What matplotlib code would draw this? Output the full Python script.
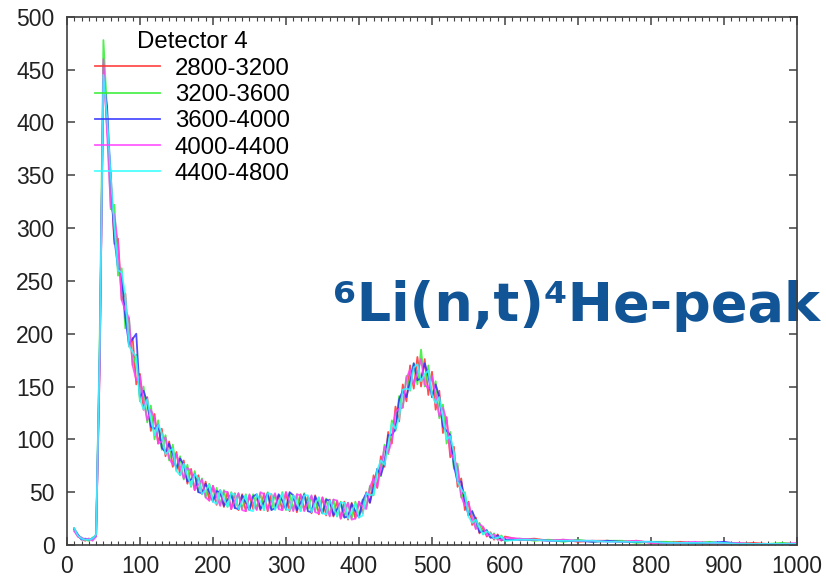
import matplotlib
matplotlib.use('Agg')
import matplotlib.pyplot as plt
from matplotlib.ticker import MultipleLocator


# channel positions: every 5 channels up to 600, then every 20 in the flat tail
channel = list(range(10, 601, 5)) + list(range(620, 1001, 20))

labels = ['2800-3200', '3200-3600', '3600-4000', '4000-4400', '4400-4800']
colors = ['#ff3030', '#30ee30', '#3030ff', '#ff40ff', '#30ffff']

# counts
s2800 = [16, 8, 6, 4, 6, 5, 10, 170, 455, 395,
         352, 285, 290, 232, 238, 188, 196, 152, 162, 128,
         140, 108, 124, 96, 110, 84, 98, 74, 88, 66,
         80, 58, 72, 52, 66, 48, 60, 42, 56, 38,
         52, 36, 50, 34, 49, 33, 48, 32, 47, 34,
         46, 33, 49, 32, 48, 34, 47, 33, 50, 32,
         47, 31, 48, 33, 46, 30, 47, 29, 45, 28,
         43, 27, 42, 25, 41, 24, 40, 25, 41, 30,
         50, 40, 66, 54, 84, 74, 107, 96, 131, 117,
         152, 136, 170, 148, 178, 150, 176, 142, 164, 128,
         146, 106, 121, 83, 93, 55, 63, 33, 41, 19,
         26, 11, 17, 8, 12, 5, 10, 4, 8,
         5, 6, 4, 5, 3, 4, 4, 3, 4, 2, 2, 3, 2, 1, 2, 1, 2, 1, 1, 1]

s3200 = [14, 9, 7, 5, 4, 7, 8, 200, 478, 410,
         318, 322, 255, 262, 205, 215, 170, 180, 136, 150,
         116, 132, 100, 118, 90, 104, 80, 95, 70, 84,
         62, 76, 55, 70, 50, 63, 45, 58, 42, 54,
         38, 52, 36, 50, 35, 49, 34, 48, 33, 48,
         34, 49, 33, 50, 34, 48, 35, 50, 33, 49,
         33, 48, 32, 49, 34, 46, 32, 45, 30, 44,
         28, 43, 27, 41, 26, 40, 25, 41, 27, 43,
         35, 56, 47, 72, 65, 95, 86, 118, 108, 141,
         130, 160, 146, 172, 152, 185, 150, 170, 140, 155,
         120, 133, 96, 107, 72, 77, 45, 50, 28, 32,
         16, 21, 10, 14, 7, 11, 5, 9, 4,
         6, 4, 5, 3, 5, 3, 4, 4, 2, 3, 3, 2, 2, 3, 1, 2, 1, 1, 2, 1]

s3600 = [15, 10, 5, 6, 5, 6, 9, 185, 440, 415,
         345, 290, 262, 255, 215, 190, 195, 200, 140, 146,
         135, 112, 110, 114, 92, 88, 96, 86, 72, 82,
         76, 60, 62, 67, 50, 49, 58, 50, 41, 51,
         50, 37, 43, 48, 35, 34, 47, 40, 33, 46,
         48, 34, 41, 49, 33, 35, 48, 42, 34, 50,
         47, 33, 40, 48, 32, 31, 46, 38, 30, 43,
         42, 28, 34, 40, 26, 27, 39, 32, 26, 42,
         49, 40, 55, 72, 66, 78, 104, 104, 110, 138,
         146, 140, 155, 172, 156, 158, 172, 160, 140, 152,
         140, 112, 108, 104, 75, 60, 60, 42, 28, 32,
         24, 12, 13, 14, 7, 7, 9, 5, 5,
         5, 5, 4, 4, 4, 3, 4, 3, 3, 3, 2, 2, 2, 2, 3, 1, 1, 1, 1, 1]

s4000 = [13, 8, 7, 5, 6, 4, 8, 175, 460, 390,
         320, 312, 285, 232, 222, 215, 170, 156, 160, 137,
         118, 128, 120, 96, 98, 102, 82, 76, 86, 74,
         63, 73, 70, 52, 57, 62, 45, 42, 56, 46,
         37, 51, 50, 34, 42, 49, 33, 32, 48, 40,
         33, 50, 48, 33, 41, 49, 34, 33, 50, 41,
         32, 48, 47, 32, 40, 47, 31, 30, 45, 36,
         27, 43, 42, 25, 33, 40, 24, 25, 41, 36,
         34, 55, 63, 55, 73, 93, 87, 99, 126, 129,
         130, 158, 166, 152, 163, 176, 152, 148, 160, 142,
         122, 130, 118, 88, 81, 74, 46, 37, 40, 26,
         15, 20, 17, 9, 9, 10, 5, 5, 7,
         6, 5, 4, 5, 4, 4, 3, 3, 4, 2, 2, 2, 3, 2, 1, 2, 1, 1, 1, 2]

s4400 = [16, 9, 6, 5, 5, 6, 10, 190, 445, 405,
         350, 300, 260, 258, 236, 188, 183, 178, 138, 128,
         138, 119, 104, 114, 106, 86, 89, 91, 70, 66,
         77, 66, 56, 67, 63, 48, 52, 57, 41, 39,
         52, 44, 36, 49, 48, 34, 41, 47, 33, 32,
         48, 41, 33, 49, 48, 33, 41, 49, 34, 33,
         47, 40, 32, 47, 47, 31, 39, 45, 30, 29,
         42, 35, 27, 40, 40, 25, 32, 39, 26, 28,
         49, 47, 48, 71, 80, 76, 95, 115, 110, 120,
         147, 148, 147, 168, 171, 155, 162, 165, 142, 134,
         140, 120, 100, 103, 88, 60, 53, 48, 27, 21,
         24, 16, 10, 13, 11, 6, 7, 8, 4,
         5, 5, 4, 4, 4, 4, 3, 3, 3, 3, 2, 2, 2, 2, 2, 1, 1, 1, 1, 1]

series = [s2800, s3200, s3600, s4000, s4400]

fig = plt.figure(figsize=(8.26, 5.81), dpi=100)
ax = fig.add_axes([0.081, 0.062, 0.884, 0.909])

for counts, lab, col in zip(series, labels, colors):
    ax.plot(channel, counts, color=col, lw=1.3, alpha=0.85, label=lab)

ax.set_xlim(0, 1000)
ax.set_ylim(0, 500)
ax.xaxis.set_major_locator(MultipleLocator(100))
ax.xaxis.set_minor_locator(MultipleLocator(10))
ax.yaxis.set_major_locator(MultipleLocator(50))

ax.tick_params(which='both', direction='in', top=True, right=True, color='#404040')
ax.tick_params(which='major', length=6, width=1.1, labelsize=16.5, labelcolor='#222222')
ax.tick_params(which='minor', length=3, width=0.8)
ax.tick_params(axis='y', pad=9)
ax.tick_params(axis='x', pad=7)
for sp in ax.spines.values():
    sp.set_color('#404040')
    sp.set_linewidth(1.2)
    sp.set_zorder(3)

for t in ax.get_xticklabels() + ax.get_yticklabels():
    t.set_fontfamily('Liberation Sans')

leg = ax.legend(title='Detector 4', loc='upper left', bbox_to_anchor=(0.0186, 1.0),
                frameon=False, handlelength=2.7, handletextpad=0.62,
                labelspacing=0.18, borderaxespad=0.2,
                prop={'family': 'Liberation Sans', 'size': 17.3})
leg.get_title().set_fontfamily('Liberation Sans')
leg.get_title().set_fontsize(17.3)

# peak label, drawn under the right spine
ax.text(0.403, 0.447, '⁶Li(n,t)⁴He-peak', transform=fig.transFigure,
        fontsize=39, fontweight='bold', color='#125597', family='DejaVu Sans',
        va='baseline', ha='left', clip_on=False, zorder=2.4)

plt.savefig('out.png', dpi=100)
